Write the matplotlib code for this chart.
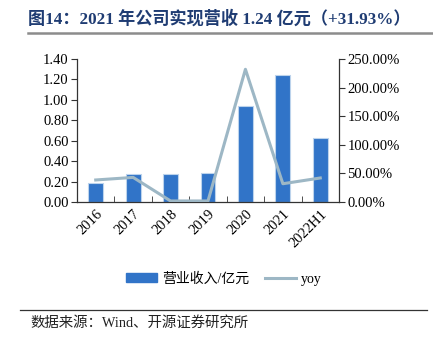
import matplotlib
matplotlib.use("Agg")
import matplotlib.pyplot as plt
from matplotlib.lines import Line2D
from matplotlib.patches import Patch
from matplotlib.ticker import FuncFormatter, FixedLocator

plt.rcParams["font.family"] = ["Liberation Serif", "Noto Sans CJK SC"]

years = ["2016", "2017", "2018", "2019", "2020", "2021", "2022H1"]
revenue = [0.19, 0.27, 0.275, 0.285, 0.94, 1.24, 0.63]
yoy = [38.5, 43.0, 1.8, 1.8, 232.0, 31.93, 42.0]

bar_color = "#3174C8"
line_color = "#9DB7C5"

fig = plt.figure(figsize=(4.33, 3.43), dpi=100)
ax = fig.add_axes([77 / 433, 1 - 202 / 343, (339 - 77) / 433, (202 - 59) / 343])
ax2 = ax.twinx()

x = list(range(len(years)))
ax.bar(x, revenue, width=0.4, color=bar_color, edgecolor="#BCD3EC", linewidth=0.8, zorder=2)
ax2.plot(x, yoy, color=line_color, lw=2.2, zorder=3)

ax.set_xlim(-0.5, len(years) - 0.5)
ax.set_ylim(0, 1.4)
ax.set_yticks([i * 0.2 for i in range(8)])
ax.yaxis.set_major_formatter(FuncFormatter(lambda v, p: f"{v:.2f}"))
ax2.set_ylim(0, 250)
ax2.set_yticks([0, 50, 100, 150, 200, 250])
ax2.yaxis.set_major_formatter(FuncFormatter(lambda v, p: f"{v:.2f}%"))

ax.set_xticks(x)
ax.set_xticklabels(years, rotation=45, ha="right", rotation_mode="anchor", fontsize=10.5)
ax.tick_params(axis="x", length=0, pad=4)
ax.xaxis.set_minor_locator(FixedLocator([i + 0.5 for i in range(len(years) - 1)]))
ax.tick_params(axis="x", which="minor", direction="in", length=4, color="#333333")
ax.tick_params(axis="y", labelsize=10.5, length=4, color="#333333", pad=2)
ax2.tick_params(axis="y", labelsize=10.5, length=4, color="#333333", pad=2)

for a in (ax, ax2):
    a.spines["top"].set_visible(False)
    for s in ("left", "right", "bottom"):
        a.spines[s].set_color("#333333")
        a.spines[s].set_linewidth(0.9)
ax2.spines["left"].set_visible(False)
ax2.spines["bottom"].set_visible(False)
ax.spines["right"].set_visible(False)

handles = [
    Patch(facecolor=bar_color, edgecolor=bar_color, label="营业收入/亿元"),
    Line2D([0], [0], color=line_color, lw=2.2, label="yoy"),
]
fig.legend(handles=handles, loc="center", bbox_to_anchor=(224 / 433, 1 - 279 / 343), ncol=2,
           frameon=False, fontsize=10, handlelength=2.2, handleheight=0.6,
           columnspacing=1.2, handletextpad=0.35)

fig.text(28 / 433, 1 - 19 / 343, "图14：2021 年公司实现营收 1.24 亿元（+31.93%）",
         fontsize=12.3, fontweight="bold", color="#1F3C73", va="center", ha="left")
fig.add_artist(Line2D([28 / 433, 1.0], [1 - 33 / 343] * 2, color="#8C8C8C", lw=1.8))
fig.add_artist(Line2D([20 / 433, 427 / 433], [1 - 310 / 343] * 2, color="#333333", lw=0.9))
fig.text(30 / 433, 1 - 323 / 343, "数据来源：Wind、开源证券研究所", fontsize=10.4,
         color="#222222", va="center", ha="left")

fig.savefig("out.png", dpi=100)
